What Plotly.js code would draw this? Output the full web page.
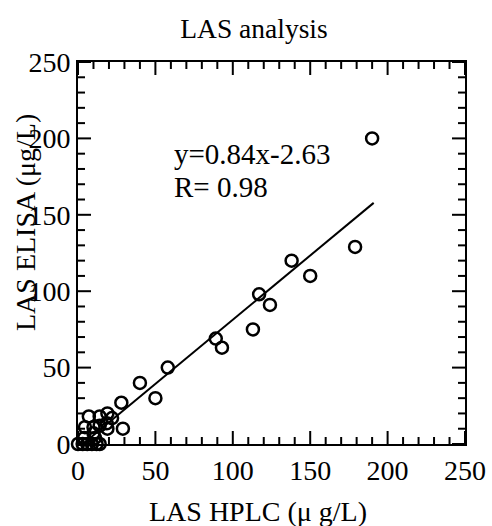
<!DOCTYPE html>
<html>
<head>
<meta charset="utf-8">
<script src="https://cdn.plot.ly/plotly-3.0.1.min.js"></script>
<style>html,body{margin:0;padding:0;background:#fff;}</style>
</head>
<body>
<div id="chart" style="width:492px;height:526px;"></div>
<script>
var hplc  = [190, 179, 150, 138, 117, 124, 113, 89, 93, 58, 40, 50, 28, 29,
             7, 14, 19, 22, 4.5, 10, 18.5, 19, 10, 11, 4, 14, 0, 3, 6, 9, 12, 14];
var elisa = [200, 129, 110, 120, 98, 91, 75, 69, 63, 50, 40, 30, 27, 10,
             18, 18, 20, 17, 11, 11, 13.5, 10, 7, 4, 4, 12, 0, 0, 0, 0, 0, 0];
var slope = 0.84;
var intercept = -2.63;
var fitRange = [0, 191];
var fitY = fitRange.map(function(v){ return slope * v + intercept; });
var xTicks = [0, 50, 100, 150, 200, 250];
var yTicks = [0, 50, 100, 150, 200, 250];
var minorStep = 10;

var FONT = "'Times New Roman', 'Liberation Serif', serif";
var MAJOR_LEN = 13, MINOR_LEN = 7, TICK_W = 2;

function makeAxis(ticks) {
  return {
    range: [ticks[0], ticks[ticks.length - 1]],
    showline: true, linecolor: '#000', linewidth: 2, mirror: true,
    ticks: '', tickmode: 'array', tickvals: ticks, ticktext: ticks.map(String),
    showgrid: false, zeroline: false,
    tickfont: {family: FONT, size: 28, color: '#000'}
  };
}
var xaxis = makeAxis(xTicks);
xaxis.ticklabelstandoff = 0;
var yaxis = makeAxis(yTicks);
yaxis.ticklabelstandoff = 0;

// inside ticks (major + minor) on all four sides, built from the tick arrays
function tickValues(ticks) {
  var out = [];
  for (var v = ticks[0]; v <= ticks[ticks.length - 1] + 1e-9; v += minorStep) {
    out.push({v: v, major: ticks.indexOf(v) >= 0});
  }
  return out;
}
var shapes = [];
var lineStyle = {color: '#000', width: TICK_W};
tickValues(xTicks).forEach(function(t) {
  var len = t.major ? MAJOR_LEN : MINOR_LEN;
  shapes.push({type: 'line', xref: 'x', yref: 'paper', ysizemode: 'pixel', yanchor: 0,
               x0: t.v, x1: t.v, y0: 0, y1: len, line: lineStyle, layer: 'above'});
  shapes.push({type: 'line', xref: 'x', yref: 'paper', ysizemode: 'pixel', yanchor: 1,
               x0: t.v, x1: t.v, y0: 0, y1: -len, line: lineStyle, layer: 'above'});
});
tickValues(yTicks).forEach(function(t) {
  var len = t.major ? MAJOR_LEN : MINOR_LEN;
  shapes.push({type: 'line', yref: 'y', xref: 'paper', xsizemode: 'pixel', xanchor: 0,
               y0: t.v, y1: t.v, x0: 0, x1: len, line: lineStyle, layer: 'above'});
  shapes.push({type: 'line', yref: 'y', xref: 'paper', xsizemode: 'pixel', xanchor: 1,
               y0: t.v, y1: t.v, x0: 0, x1: -len, line: lineStyle, layer: 'above'});
});

var data = [
  {
    x: fitRange, y: fitY, mode: 'lines', type: 'scatter',
    line: {color: '#000', width: 2}, hoverinfo: 'skip', showlegend: false
  },
  {
    x: hplc, y: elisa, mode: 'markers', type: 'scatter',
    marker: {symbol: 'circle-open', size: 12, color: '#000', line: {color: '#000', width: 2.5}},
    showlegend: false, cliponaxis: false
  }
];

var layout = {
  width: 492, height: 526,
  margin: {l: 78, r: 27, t: 62, b: 82},
  paper_bgcolor: '#fff', plot_bgcolor: '#fff',
  font: {family: FONT, color: '#000'},
  title: {text: 'LAS analysis', font: {family: FONT, size: 27.5, color: '#000'},
          xref: 'container', x: 254/492, xanchor: 'center',
          yref: 'container', y: 1 - 28/526, yanchor: 'middle'},
  xaxis: xaxis,
  yaxis: yaxis,
  shapes: shapes,
  annotations: [
    {text: 'LAS HPLC (μ g/L)', xref: 'paper', yref: 'paper',
     x: (258-78)/387, y: -(511-444)/382, xanchor: 'center', yanchor: 'middle',
     showarrow: false, font: {family: FONT, size: 28, color: '#000'}},
    {text: 'LAS ELISA (μg/L)', xref: 'paper', yref: 'paper', textangle: -90,
     x: (25-78)/387, y: (444-223)/382, xanchor: 'center', yanchor: 'middle',
     showarrow: false, font: {family: FONT, size: 28, color: '#000'}},
    {text: 'y=0.84x-2.63', xref: 'x', yref: 'y', x: 60.5, y: 189.5,
     xanchor: 'left', yanchor: 'middle', showarrow: false,
     font: {family: FONT, size: 29, color: '#000'}},
    {text: 'R= 0.98', xref: 'x', yref: 'y', x: 60.5, y: 168.5,
     xanchor: 'left', yanchor: 'middle', showarrow: false,
     font: {family: FONT, size: 29, color: '#000'}}
  ]
};

Plotly.newPlot('chart', data, layout, {displayModeBar: false, staticPlot: true});
</script>
</body>
</html>
